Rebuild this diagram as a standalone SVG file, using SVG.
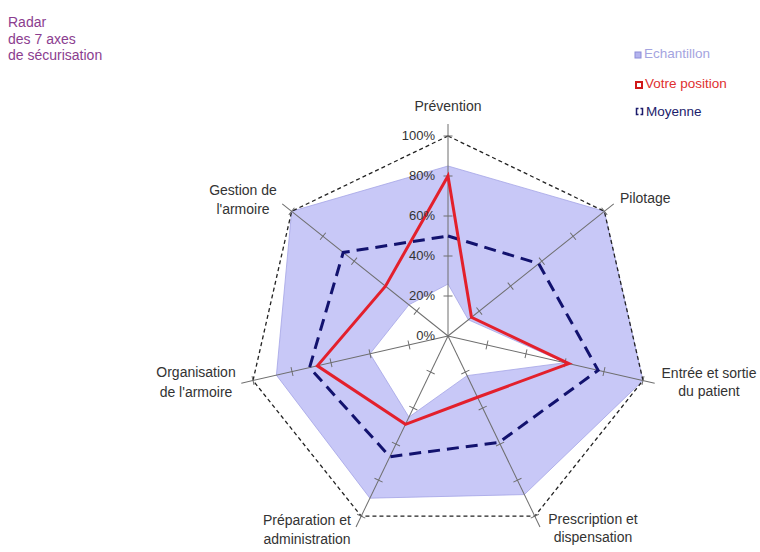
<svg xmlns="http://www.w3.org/2000/svg" xmlns:xlink="http://www.w3.org/1999/xlink" width="760" height="552" viewBox="0 0 760 552">
  <style>
    text { font-family: "Liberation Sans", Arial, sans-serif; }
    .title { font-size: 14px; fill: #8b3d8f; }
    .lbl { font-size: 14px; fill: #333333; text-anchor: middle; }
    .pct { font-size: 13px; fill: #333333; text-anchor: end; }
    .leg { font-size: 13.5px; }
    .axis { stroke: #6e6e6e; stroke-width: 1; fill: none; }
    .band { fill: #c8c8f7; fill-rule: evenodd; stroke: #a4a4e6; stroke-width: 0.8; }
    .frame { fill: none; stroke: #222222; stroke-width: 1.3; stroke-dasharray: 4 3; }
    .red { fill: none; stroke: #e3202c; stroke-width: 3; stroke-linejoin: miter; }
    .blue { fill: none; stroke: #12126e; stroke-width: 3; stroke-dasharray: 12 7; stroke-linejoin: miter; }
  </style>
  <defs>
    <g id="axis">
      <line class="axis" x1="448" y1="336" x2="448" y2="124"/>
      <path class="axis" d="M443.5,296H452.5M443.5,256H452.5M443.5,216H452.5M443.5,176H452.5M443.5,136H452.5"/>
    </g>
  </defs>

  <rect width="760" height="552" fill="#ffffff"/>

  <g id="title">
    <text class="title" x="8" y="27">Radar</text>
    <text class="title" x="8" y="44">des 7 axes</text>
    <text class="title" x="8" y="60">de sécurisation</text>
  </g>

  <g id="legend">
    <rect x="635" y="52" width="6" height="6" fill="#b4b4ee" stroke="#8c8cd8" stroke-width="1"/>
    <text class="leg" x="644" y="58" fill="#a4a4e0">Echantillon</text>
    <rect x="636" y="82" width="6" height="6" fill="#ffffff" stroke="#d01818" stroke-width="2"/>
    <text class="leg" x="645" y="88" fill="#e03030">Votre position</text>
    <path d="M638.5,108.5h-2v6h2M640.5,108.5h2v6h-2" fill="none" stroke="#1c1c6c" stroke-width="1.5"/>
    <text class="leg" x="646" y="116" fill="#1c1c6c">Moyenne</text>
  </g>

  <g id="echantillon">
    <path class="band" d="M448,166 L604.37,211.3 L642.99,380.5 L524.37,494.57 L369.9,498.17 L276.41,375.16 L291.63,211.3 Z M448,284 L468.33,319.79 L564.99,362.7 L467.09,375.64 L408.95,417.09 L370,353.8 L408.91,304.82 Z"/>
  </g>

  <g id="frame">
    <polygon class="frame" points="448,136 604.37,211.3 642.99,380.5 534.78,516.19 361.22,516.19 253.01,380.5 291.63,211.3"/>
  </g>

  <g id="axes">
    <use xlink:href="#axis"/>
    <use xlink:href="#axis" transform="rotate(51.4286 448 336)"/>
    <use xlink:href="#axis" transform="rotate(102.8571 448 336)"/>
    <use xlink:href="#axis" transform="rotate(154.2857 448 336)"/>
    <use xlink:href="#axis" transform="rotate(205.7143 448 336)"/>
    <use xlink:href="#axis" transform="rotate(257.1429 448 336)"/>
    <use xlink:href="#axis" transform="rotate(308.5714 448 336)"/>
  </g>

  <g id="moyenne">
    <polygon class="blue" points="448,236 538.69,263.67 598.14,370.27 499.2,442.31 389.86,456.73 309.56,367.6 343.23,252.45"/>
  </g>

  <g id="votre-position">
    <polygon class="red" points="448,176 471.46,317.29 568.89,363.59 477.51,397.26 405.48,424.29 317.36,365.82 385.45,286.12"/>
  </g>

  <g id="scale">
    <text class="pct" x="435" y="140">100%</text>
    <text class="pct" x="435" y="180">80%</text>
    <text class="pct" x="435" y="220">60%</text>
    <text class="pct" x="435" y="260">40%</text>
    <text class="pct" x="435" y="300">20%</text>
    <text class="pct" x="435" y="340">0%</text>
  </g>

  <g id="label-prevention"><text class="lbl" x="448" y="111">Prévention</text></g>
  <g id="label-pilotage"><text class="lbl" x="620" y="203" text-anchor="start" style="text-anchor:start">Pilotage</text></g>
  <g id="label-entree">
    <text class="lbl" x="709" y="378">Entrée et sortie</text>
    <text class="lbl" x="709" y="396">du patient</text>
  </g>
  <g id="label-prescription">
    <text class="lbl" x="593" y="524">Prescription et</text>
    <text class="lbl" x="593" y="542">dispensation</text>
  </g>
  <g id="label-preparation">
    <text class="lbl" x="307" y="525">Préparation et</text>
    <text class="lbl" x="307" y="544">administration</text>
  </g>
  <g id="label-organisation">
    <text class="lbl" x="196" y="377">Organisation</text>
    <text class="lbl" x="196" y="397">de l'armoire</text>
  </g>
  <g id="label-gestion">
    <text class="lbl" x="243" y="195">Gestion de</text>
    <text class="lbl" x="243" y="214">l'armoire</text>
  </g>
</svg>
